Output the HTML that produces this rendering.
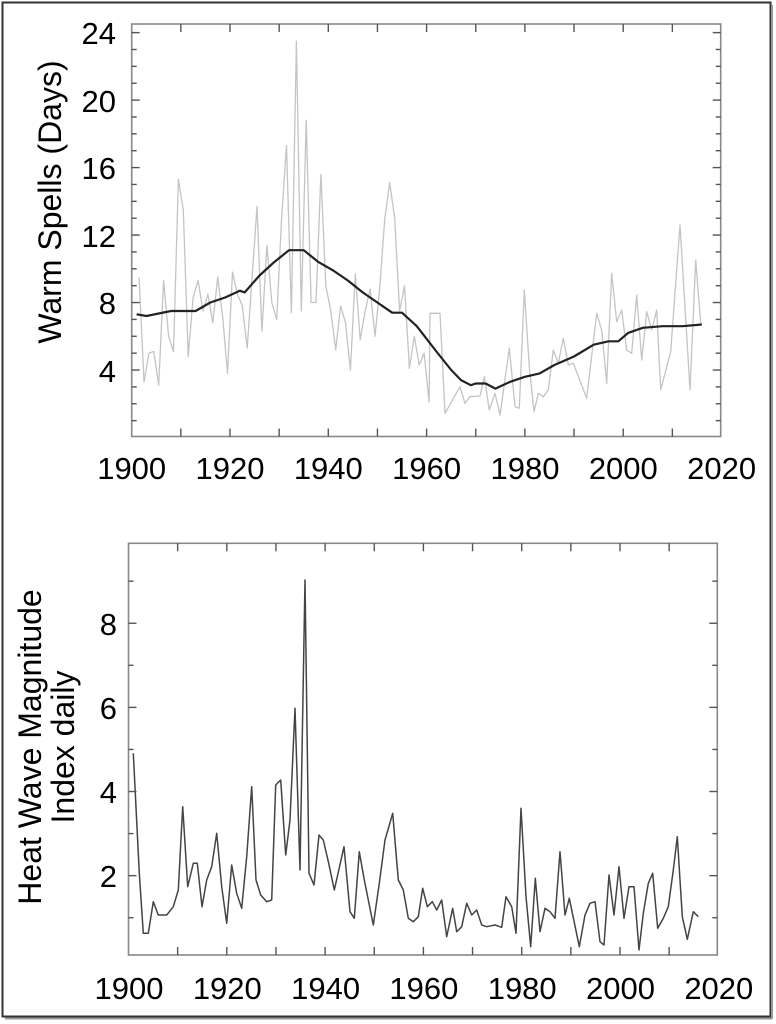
<!DOCTYPE html>
<html><head><meta charset="utf-8"><style>
body{margin:0;background:#fff}
svg{display:block}
text{font-family:"Liberation Sans",sans-serif;fill:#000}
</style></head><body>
<svg id="s" width="776" height="1024" xmlns="http://www.w3.org/2000/svg">
<rect x="0" y="0" width="776" height="1024" fill="#fff"/>
<rect x="2.5" y="2.5" width="768" height="1014" fill="none" stroke="#333" stroke-width="2"/>
<line x1="772" y1="5" x2="772" y2="1019" stroke="#999" stroke-width="2"/>
<line x1="5" y1="1018.5" x2="772" y2="1018.5" stroke="#999" stroke-width="2"/>
<g id="g"></g>
<g font-size="31">
<text x="116" y="44" text-anchor="end">24</text>
<text x="116" y="112" text-anchor="end">20</text>
<text x="116" y="179" text-anchor="end">16</text>
<text x="116" y="247" text-anchor="end">12</text>
<text x="116" y="314" text-anchor="end">8</text>
<text x="116" y="382" text-anchor="end">4</text>
<text x="131.7" y="479" text-anchor="middle">1900</text>
<text x="230" y="479" text-anchor="middle">1920</text>
<text x="328.3" y="479" text-anchor="middle">1940</text>
<text x="426.6" y="479" text-anchor="middle">1960</text>
<text x="525" y="479" text-anchor="middle">1980</text>
<text x="623.3" y="479" text-anchor="middle">2000</text>
<text x="721.6" y="479" text-anchor="middle">2020</text>
<text x="117" y="635" text-anchor="end">8</text>
<text x="117" y="719" text-anchor="end">6</text>
<text x="117" y="803" text-anchor="end">4</text>
<text x="117" y="887" text-anchor="end">2</text>
<text x="129" y="999" text-anchor="middle">1900</text>
<text x="227.3" y="999" text-anchor="middle">1920</text>
<text x="325.6" y="999" text-anchor="middle">1940</text>
<text x="423.9" y="999" text-anchor="middle">1960</text>
<text x="522.2" y="999" text-anchor="middle">1980</text>
<text x="620.5" y="999" text-anchor="middle">2000</text>
<text x="718.8" y="999" text-anchor="middle">2020</text>
</g>
<g font-size="32">
<text transform="translate(61,202) rotate(-90)" text-anchor="middle">Warm Spells (Days)</text>
<text transform="translate(41,747) rotate(-90)" text-anchor="middle">Heat Wave Magnitude</text>
<text transform="translate(74,747) rotate(-90)" text-anchor="middle">Index daily</text>
</g>
</svg>
<script>
var NS="http://www.w3.org/2000/svg",G=document.getElementById('g');
function el(t,a){var e=document.createElementNS(NS,t);for(var k in a)e.setAttribute(k,a[k]);G.appendChild(e);return e;}
function pl(pts,st,w){el('polyline',{points:pts.map(p=>p[0].toFixed(1)+','+p[1].toFixed(1)).join(' '),fill:'none',stroke:st,'stroke-width':w,'stroke-linejoin':'round'});}
var L=131.7,R=720.7,T=24,B=436.5;
function tx(y){return L+4.915*(y-1900);} function ty(v){return 437.5-16.87*v;}
var early=[9.5,3.3,5,5.1,3.1,9.3,6,5.1,15.3,13.5,4.8,8.3,9.3,7.5,8.5,6.8,9.5,7.2,3.8,9.8,8.5,7.8,5.3,9.5,13.7,6.3,11.4,8,7,13,17.3,7.4,23.5,7.5,18.8,8,8,15.6,9,7.5,5.2,7.8,6.8,4,9.7,5.8,7.5,8.8,6,9,13,15.1,13,7.5,9,4.1,6,4.3,5,2.1];
var g=[];early.forEach((v,i)=>g.push([tx(1901.5+i),ty(v)]));
var z3=[[0,910],[30,910],[45,1210],[90,1130],[105,1180],[120,1160],[150,1158],[163,1100],[178,1200],[195,1150],[210,1215],[238,1015],[255,1190],[268,1195],[283,840],[298,1070],[312,1205],[325,1150],[340,1160],[355,1140],[370,1020],[385,1060],[400,985],[415,1065],[430,1060],[470,1165],[500,910],[515,960],[530,1120],[545,790],[560,935],[575,900],[590,1020],[605,1030],[620,855],[635,1050],[650,905],[665,960],[680,900],[692,1140],[722,1025],[750,645],[780,1140],[797,750],[812,940]];
z3.forEach(p=>g.push([430+p[0]/3,10+p[1]/3]));
pl(g,'#c4c4c4',1.3);
var sm=[[1901,7.3],[1903,7.2],[1908,7.5],[1913,7.5],[1916,8],[1919,8.3],[1922,8.7],[1923,8.6],[1926,9.6],[1929,10.4],[1932,11.1],[1935,11.1],[1938,10.4],[1941,9.9],[1944,9.3],[1947,8.6],[1950,8],[1953,7.4],[1955,7.4],[1958,6.6],[1962,5.1],[1965,4],[1967,3.4],[1969,3.1],[1970,3.2],[1972,3.2],[1974,2.9],[1977,3.3],[1980,3.6],[1983,3.8],[1986,4.3],[1990,4.8],[1994,5.5],[1997,5.7],[1999,5.7],[2001,6.2],[2004,6.5],[2008,6.6],[2012,6.6],[2016,6.7]];
pl(sm.map(p=>[tx(p[0]),ty(p[1])]),'#222',2.2);
function frame(L,R,T,B,xs,ys){
 el('rect',{x:L,y:T,width:R-L,height:B-T,fill:'none',stroke:'#888','stroke-width':1.6});
 xs.forEach(x=>{el('line',{x1:x,y1:B,x2:x,y2:B-8,stroke:'#555','stroke-width':1.4});el('line',{x1:x,y1:T,x2:x,y2:T+8,stroke:'#555','stroke-width':1.4});});
 ys.forEach(q=>{var len=q[1]?8:5;el('line',{x1:L,y1:q[0],x2:L+len,y2:q[0],stroke:'#555','stroke-width':1.4});el('line',{x1:R,y1:q[0],x2:R-len,y2:q[0],stroke:'#555','stroke-width':1.4});});
}
var xs=[],ys=[];for(var y=1910;y<=2010;y+=10)xs.push(tx(y));
for(var v=1;v<=24;v++)ys.push([ty(v),v%4==0]);
frame(L,R,T,B,xs,ys);
var L2=128.5,R2=717.3,T2=543.3,B2=955;
function bx(y){return L2+4.915*(y-1900);} function by(v){return 959.8-42.07*v;}
var z2=[[130,700],[148,1060],[160,1240],[175,1240],[190,1145],[205,1185],[230,1185],[250,1160],[265,1110],[278,860],[293,1100],[310,1030],[322,1030],[336,1160],[350,1080],[365,1040],[380,940],[395,1100],[410,1210],[425,1035],[440,1120],[455,1165],[470,1010],[485,800],[498,1080],[512,1125],[530,1145],[545,1140],[557,795],[572,780],[587,1005],[600,900],[615,565],[630,1050],[645,180],[657,1060],[672,1095],[687,945],[700,960],[716,1030],[733,1110],[762,980],[780,1175],[793,1195],[808,995],[823,1080],[850,1215],[868,1090],[885,960],[908,880],[925,1080],[940,1110],[955,1195],[970,1205],[985,1190],[998,1105],[1012,1160],[1027,1145],[1040,1170],[1055,1140],[1070,1250],[1088,1165],[1100,1235],[1115,1220],[1130,1150],[1145,1185],[1160,1170],[1175,1215],[1190,1220]];
var z4=[[195,1215],[215,1222],[228,1130],[245,1160],[258,1240],[273,865],[288,1130],[302,1280],[316,1075],[330,1235],[345,1165],[360,1175],[375,1195],[390,995],[405,1185],[418,1135],[448,1280],[465,1185],[480,1150],[495,1145],[510,1265],[522,1275],[537,1065],[552,1185],[567,1040],[582,1195],[597,1100],[612,1100],[627,1290],[640,1180],[655,1090],[668,1060],[683,1225],[700,1195],[715,1160],[730,1050],[742,950],[757,1190],[772,1258],[790,1175],[805,1190]];
var b=z2.map(p=>[90+p[0]/3,520+p[1]/3]).concat(z4.map(p=>[430+p[0]/3,520+p[1]/3]));
pl(b,'#444',1.5);
xs=[];ys=[];for(var y=1910;y<=2010;y+=10)xs.push(bx(y));
for(var v=1;v<=9;v++)ys.push([by(v),v%2==0]);
frame(L2,R2,T2,B2,xs,ys);
</script>
</body></html>
